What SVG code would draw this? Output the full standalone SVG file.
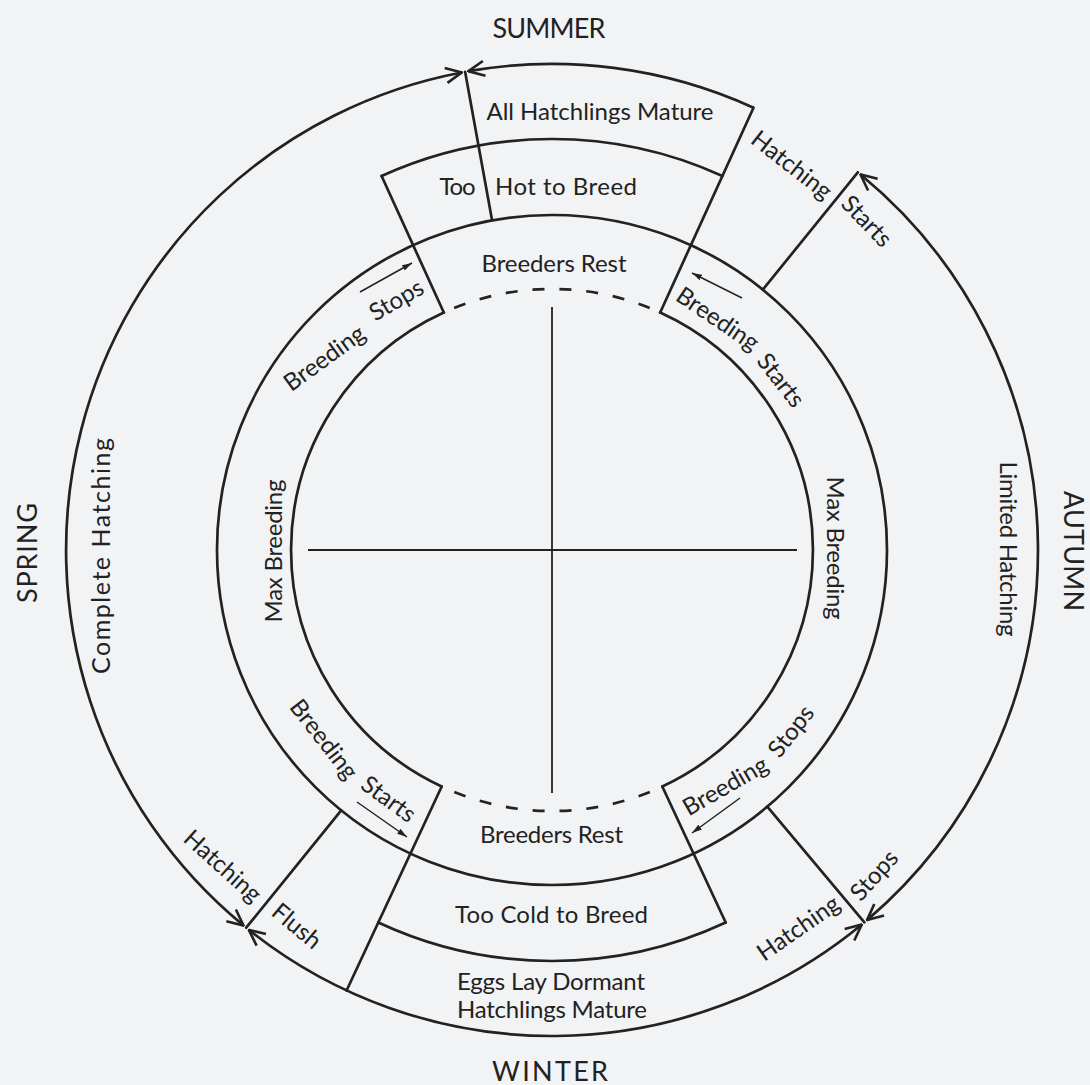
<svg xmlns="http://www.w3.org/2000/svg" width="1090" height="1085" viewBox="0 0 1090 1085">
<style>
.ln{fill:none;stroke:#222;stroke-width:2.7;stroke-linecap:round}
.thin{fill:none;stroke:#222;stroke-width:1.8}
.dash{fill:none;stroke:#222;stroke-width:2.7;stroke-dasharray:12 14.9}
.arw{fill:none;stroke:#222;stroke-width:2.7}
.sm{fill:none;stroke:#222;stroke-width:1.5}
text{font-family:Lato,'Liberation Sans',sans-serif;font-size:24px;fill:#222;text-anchor:middle}
.season{font-size:27px}
.big{font-size:25px}
</style>
<defs>
<marker id="chev" viewBox="0 0 18 18" refX="17" refY="9" markerWidth="18" markerHeight="18" markerUnits="userSpaceOnUse" orient="auto-start-reverse"><path d="M1,1.5 L17,9 L1,16.5" fill="none" stroke="#222" stroke-width="2.6"/></marker>
<marker id="tri" viewBox="0 0 10 6" refX="10" refY="3" markerWidth="10" markerHeight="6" markerUnits="userSpaceOnUse" orient="auto"><path d="M0,0 L10,3 L0,6 z" fill="#222"/></marker>
</defs>
<rect width="1090" height="1085" fill="#f2f3f5"/>

<g id="seasons">
<text class="season" x="549" y="38" textLength="113">SUMMER</text>
<text class="season" x="550" y="1081" textLength="116">WINTER</text>
<text class="season" transform="translate(37,553) rotate(-90)" textLength="100">SPRING</text>
<text class="season" transform="translate(1064,551) rotate(90)" textLength="120">AUTUMN</text>
</g>

<g id="core">
<path class="ln" d="M660.2,312.5 A261 261 0 0 1 662.3,786.5"/>
<path class="ln" d="M441.7,786.5 A261 261 0 0 1 443.8,312.5"/>
<path class="dash" d="M454.2,308 A261 261 0 0 1 649.8,308"/>
<path class="dash" d="M649.8,792 A261 261 0 0 1 454.2,792"/>
<line class="thin" x1="552" y1="307" x2="552" y2="793"/>
<line class="thin" x1="308" y1="550" x2="797" y2="550"/>
</g>

<g id="breeding-ring">
<circle class="ln" cx="552" cy="550" r="335"/>
<text transform="translate(282,551) rotate(-90)" textLength="143">Max Breeding</text>
<text transform="translate(827,548) rotate(90)" textLength="143">Max Breeding</text>
</g>

<g id="breeders-rest-top">
<line class="ln" x1="443.8" y1="312.5" x2="381.6" y2="176"/>
<line class="ln" x1="660.2" y1="312.5" x2="753.5" y2="107.7"/>
<text x="554" y="272" textLength="145">Breeders Rest</text>
</g>

<g id="breeding-stops-top">
<text transform="translate(325,359) rotate(-36)" y="7">Breeding</text>
<text transform="translate(397,301) rotate(-30)" y="7">Stops</text>
</g>

<g id="breeding-starts-top">
<text transform="translate(717,320) rotate(34)" y="7">Breeding</text>
<text transform="translate(780,381) rotate(52)" y="7">Starts</text>
</g>

<g id="breeders-rest-bottom">
<line class="ln" x1="662.3" y1="786.5" x2="725.7" y2="922.5"/>
<line class="ln" x1="441.7" y1="786.5" x2="346.6" y2="990.5"/>
<text x="551.5" y="843" textLength="143">Breeders Rest</text>
</g>

<g id="breeding-starts-bottom">
<text transform="translate(323,740) rotate(52)" y="7">Breeding</text>
<text transform="translate(388,800) rotate(36)" y="7">Starts</text>
</g>

<g id="breeding-stops-bottom">
<text transform="translate(726,787) rotate(-30)" y="7">Breeding</text>
<text transform="translate(792,732) rotate(-52)" y="7">Stops</text>
</g>

<g id="too-hot">
<path class="ln" d="M381.6,176 A411 411 0 0 1 722.4,176"/>
<text x="457.5" y="195" textLength="36">Too</text>
<text x="566" y="195" textLength="142">Hot to Breed</text>
</g>

<g id="all-hatchlings-mature">
<line class="ln" x1="492.1" y1="220.4" x2="465.1" y2="71.8"/>
<text x="600" y="120" textLength="227">All Hatchlings Mature</text>
</g>

<g id="too-cold">
<path class="ln" d="M725.7,922.5 A411 411 0 0 1 378.3,922.5"/>
<text x="551.5" y="923" textLength="193">Too Cold to Breed</text>
</g>

<g id="eggs-dormant">
<text x="551" y="990" textLength="188">Eggs Lay Dormant</text>
<text x="552" y="1018" textLength="190">Hatchlings Mature</text>
</g>

<g id="hatching-starts">
<line class="ln" x1="762.8" y1="289.7" x2="857.8" y2="172.3"/>
<text transform="translate(791,166) rotate(38)" y="7">Hatching</text>
<text transform="translate(866,222) rotate(46)" y="7">Starts</text>
</g>

<g id="hatching-stops">
<line class="ln" x1="767.3" y1="806.6" x2="864.4" y2="922.3"/>
<text transform="translate(799,929) rotate(-35)" y="7">Hatching</text>
<text transform="translate(875,876) rotate(-48)" y="7">Stops</text>
</g>

<g id="hatching-flush">
<line class="ln" x1="341.2" y1="810.3" x2="246.2" y2="927.7"/>
<text transform="translate(222,867) rotate(42)" y="7">Hatching</text>
<text transform="translate(296,927) rotate(40)" y="7">Flush</text>
</g>

<g id="complete-hatching">
<text class="big" transform="translate(110,556) rotate(-90)" textLength="236">Complete Hatching</text>
</g>

<g id="limited-hatching">
<text transform="translate(1000,549) rotate(90)" textLength="175">Limited Hatching</text>
</g>

<g id="connectors">
<path class="arw" d="M243.5,925.5 A486 486 0 0 1 461.8,72.5" marker-start="url(#chev)" marker-end="url(#chev)"/>
<path class="arw" d="M753.5,107.7 A486 486 0 0 0 468.4,71.2" marker-end="url(#chev)"/>
<path class="arw" d="M860.5,174.5 A486 486 0 0 1 867,920.1" marker-start="url(#chev)" marker-end="url(#chev)"/>
<path class="arw" d="M861.8,924.5 A486 486 0 0 1 248.8,929.8" marker-start="url(#chev)" marker-end="url(#chev)"/>
<line class="sm" x1="360" y1="292" x2="412" y2="263" marker-end="url(#tri)"/>
<line class="sm" x1="742" y1="298" x2="692" y2="273" marker-end="url(#tri)"/>
<line class="sm" x1="357" y1="802" x2="407" y2="837" marker-end="url(#tri)"/>
<line class="sm" x1="740" y1="798" x2="692" y2="833" marker-end="url(#tri)"/>
</g>
</svg>
